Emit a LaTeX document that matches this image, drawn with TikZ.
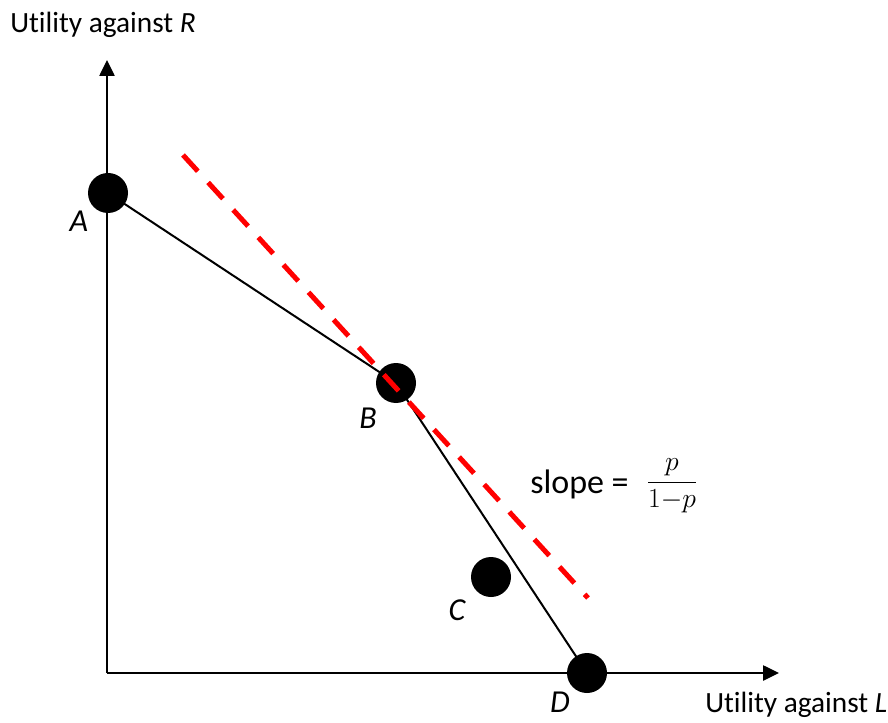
\documentclass[tikz,border=0pt]{standalone}
\usepackage{fontspec}
\setmainfont{Carlito}[Ligatures=NoCommon]
\usetikzlibrary{arrows.meta}
\begin{document}
\begin{tikzpicture}[x=0.75pt, y=-0.75pt, font=\fontsize{22}{26}\selectfont, line join=round, >={Triangle[length=12pt, width=11.5pt]},
  dot/.style={circle, fill=black, minimum size=30pt, inner sep=0pt},
  lbl/.style={anchor=base, inner sep=0pt, font=\fontsize{24}{28}\selectfont\itshape}]
\useasboundingbox (0,0) rectangle (888,723);
\coordinate (O) at (107,673);
\coordinate (Ytip) at (107,60);
\coordinate (Xtip) at (779,673);
\coordinate (T1) at (183,155);
\coordinate (T2) at (588,598);
% axes
\draw[line width=1.1pt,->] (O) -- (Ytip);
\draw[line width=1.1pt,->] (O) -- (Xtip);
\node[anchor=base west, inner sep=0pt] (ylab) at (10,33) {Utility against \textit{R}};
\node[anchor=base west, inner sep=0pt] (xlab) at (705,712) {Utility against \textit{L}};
% frontier
\node[dot] (A) at (108,193) {};
\node[dot] (B) at (396,383) {};
\node[dot] (C) at (491,577) {};
\node[dot] (D) at (587,673) {};
\draw[line width=1.5pt] (A.center) -- (B.center) -- (D.center);
\draw[red, line width=3.75pt, dash pattern=on 16.5pt off 11.4pt] (T1) -- (T2);
\node[lbl] (Alab) at (79,232) {A};
\node[lbl] (Blab) at (368,428) {B};
\node[lbl] (Clab) at (457,620) {C};
\node[lbl] (Dlab) at (560,712) {D};
\node[anchor=base west, inner sep=0pt, font=\fontsize{25.5}{30}\selectfont] (slope) at (530,493) {slope =};
\node[anchor=base, inner sep=0pt, font=\fontsize{21.5}{25}\selectfont] (frac) at (672,489) {$\displaystyle\frac{p}{1{-}p}$};
\end{tikzpicture}
\end{document}
